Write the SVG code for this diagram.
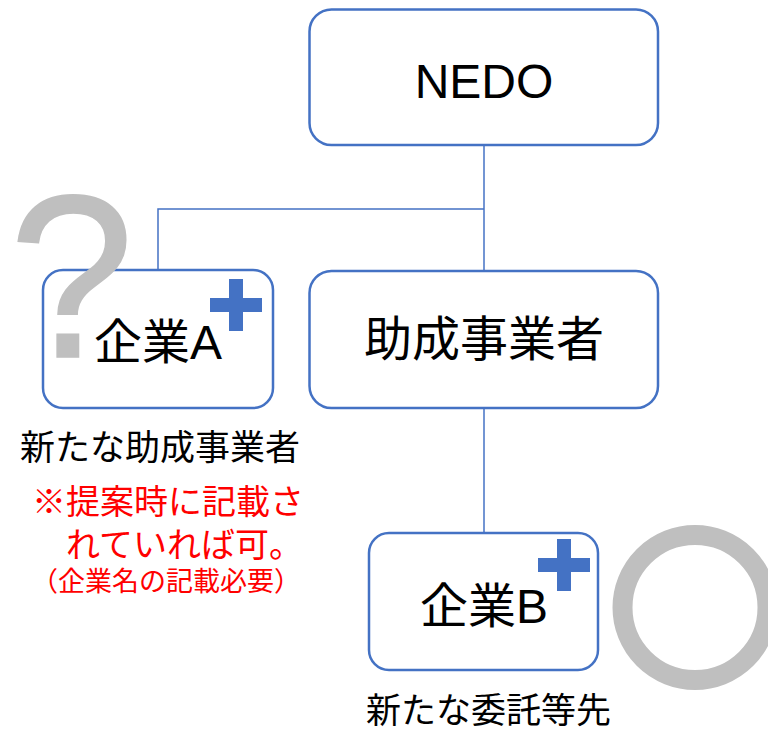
<svg xmlns="http://www.w3.org/2000/svg" width="768" height="729" viewBox="0 0 768 729">
<style>
.box{fill:#ffffff;stroke:#4472C4;stroke-width:2.5}
.conn{fill:none;stroke:#4472C4;stroke-width:1.5}
.lbl{font-family:'Liberation Sans','Noto Sans CJK JP',sans-serif;font-size:48px;fill:#000000;text-anchor:middle}
.cap{font-family:'Noto Sans CJK JP',sans-serif;fill:#000000}
.red{font-family:'Noto Sans CJK JP',sans-serif;fill:#FF0000}
.plus{fill:#4472C4}
.mark{fill:#BFBFBF}
</style>
<defs>
<path id="plusShape" d="M-7,-26 H7 V-7 H26 V7 H7 V26 H-7 V7 H-26 V-7 H-7 Z"/>
</defs>
<rect width="768" height="729" fill="#ffffff"/>
<g id="connectors">
<path class="conn" d="M484,145 V271"/>
<path class="conn" d="M484,209 H158 V270"/>
<path class="conn" d="M484,408 V533"/>
</g>
<g id="node-nedo">
<rect class="box" x="309.5" y="9.5" width="348.5" height="135.5" rx="22"/>
<text class="lbl" x="484" y="98">NEDO</text>
</g>
<g id="node-kigyoA">
<rect class="box" x="43" y="270" width="230" height="138" rx="20"/>
<text class="lbl" x="158" y="359">企業A</text>
<use href="#plusShape" class="plus" x="236" y="305"/>
</g>
<g id="node-josei">
<rect class="box" x="309.5" y="271" width="348.5" height="137" rx="22"/>
<text class="lbl" x="484" y="356">助成事業者</text>
</g>
<g id="node-kigyoB">
<rect class="box" x="369" y="533" width="229" height="137" rx="20"/>
<text class="lbl" x="484" y="623">企業B</text>
<use href="#plusShape" class="plus" x="564" y="565"/>
</g>
<g id="question-mark">
<text class="mark" transform="translate(9,357) scale(0.97,1)" x="0" y="0" font-family="'Liberation Sans',sans-serif" font-size="232" stroke="#BFBFBF" stroke-width="1.5">?</text>
</g>
<g id="circle-mark">
<circle cx="695" cy="607.5" r="72.5" fill="none" stroke="#BFBFBF" stroke-width="20"/>
</g>
<g id="note-A">
<text class="cap" x="20" y="460" font-size="35">新たな助成事業者</text>
<text class="red" x="32" y="514" font-size="34">※提案時に記載さ</text>
<text class="red" x="66" y="557" font-size="34">れていれば可。</text>
<text class="red" x="31" y="591" font-size="27">（企業名の記載必要）</text>
</g>
<g id="note-B">
<text class="cap" x="366" y="723" font-size="35">新たな委託等先</text>
</g>
</svg>
